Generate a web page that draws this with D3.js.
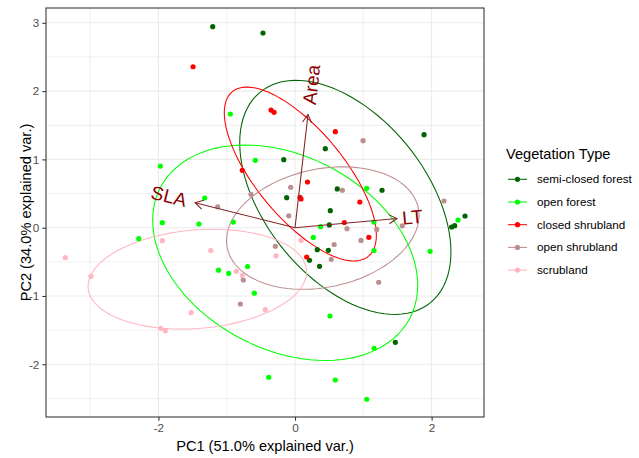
<!DOCTYPE html>
<html>
<head>
<meta charset="utf-8">
<script src="https://cdn.jsdelivr.net/npm/d3@7/dist/d3.min.js"></script>
<style>
  html, body { margin: 0; padding: 0; background: #fff; }
  svg { display: block; font-family: "Liberation Sans", Arial, sans-serif; }
</style>
</head>
<body>
<svg id="chart" width="639" height="458"></svg>
<script>
// PCA scores (PC1, PC2) per vegetation type
const semiClosedForest = [
  [-1.205, 2.943], [-0.469, 2.851], [1.889, 1.362], [0.444, 1.157], [-0.165, 0.996],
  [0.619, 0.567], [1.274, 0.548], [-0.122, 0.439], [0.517, 0.249], [0.502, 0.040],
  [2.294, 0.010], [2.338, 0.029], [2.489, 0.171], [0.326, -0.322], [0.488, -0.331],
  [0.212, -0.477], [0.359, -0.565], [1.469, -1.678]
];
const openForest = [
  [-0.947, 1.665], [-0.581, 0.987], [-1.972, 0.903], [-1.322, 0.435], [1.050, 0.577],
  [-1.943, 0.073], [-1.406, 0.054], [-0.903, 0.083], [0.373, 0.015], [1.154, 0.083],
  [2.387, 0.113], [-2.288, -0.161], [0.268, -0.143], [1.157, -0.334], [1.977, -0.346],
  [-1.120, -0.622], [-0.971, -0.668], [-0.695, -0.568], [-0.596, -0.959], [0.512, -1.293],
  [1.157, -1.766], [-0.384, -2.190], [0.590, -2.230], [1.050, -2.512]
];
const closedShrubland = [
  [-1.493, 2.357], [-0.351, 1.723], [-0.307, 1.690], [0.590, 1.406], [-0.772, 0.840],
  [0.183, 0.669], [0.073, 0.445], [0.088, 0.420], [0.949, 0.376], [0.722, 0.076],
  [1.081, -0.141], [0.171, -0.429]
];
const openShrubland = [
  [0.996, 1.274], [-0.063, 0.592], [0.693, 0.548], [-0.644, 0.489], [2.182, 0.391],
  [-1.132, 0.307], [-0.092, 0.174], [0.761, -0.015], [1.196, -0.026], [1.570, 0.028],
  [-0.288, -0.272], [0.574, -0.246], [0.966, -0.187], [0.531, -0.463], [-0.757, -0.766],
  [1.225, -0.799], [-0.801, -1.117]
];
const scrubland = [
  [-3.363, -0.439], [-2.987, -0.712], [-1.966, -1.473], [-1.899, -1.508], [-1.520, -1.244],
  [-1.943, -0.190], [-1.233, -0.334], [-0.859, -0.638], [-0.772, -0.700], [-0.436, -1.201],
  [0.088, -0.187], [-0.278, -0.414]
];

const groupNames = ["semi-closed forest", "open forest", "closed shrubland", "open shrubland", "scrubland"];
const groupScores = [semiClosedForest, openForest, closedShrubland, openShrubland, scrubland];
const groupColors = ["#006400", "#00ff00", "#ff0000", "#bc8f8f", "#ffb6c1"];

// Variable loadings (arrow tips)
const varNames = ["SLA", "LT", "Area"];
const varPC1 = [-1.464, 1.493, 0.190];
const varPC2 = [0.366, 0.135, 1.657];

// Axes
const xDomain = [-3.646, 2.767];
const yDomain = [-2.772, 3.217];
const xMajor = [-2, 0, 2];
const xMinor = [-3, -1, 1];
const yMajor = [-2, -1, 0, 1, 2, 3];
const yMinor = [-2.5, -1.5, -0.5, 0.5, 1.5, 2.5];
const xTitle = "PC1 (51.0% explained var.)";
const yTitle = "PC2 (34.0% explained var.)";
const legendTitle = "Vegetation Type";

const panel = { left: 46, right: 484, top: 8, bottom: 417 };
const svg = d3.select("#chart");
const x = d3.scaleLinear().domain(xDomain).range([panel.left, panel.right]);
const y = d3.scaleLinear().domain(yDomain).range([panel.bottom, panel.top]);

svg.append("rect").attr("width", 639).attr("height", 458).attr("fill", "#fff");

// grid
const grid = svg.append("g");
grid.selectAll(".vx-minor").data(xMinor).join("line")
  .attr("x1", d => x(d)).attr("x2", d => x(d)).attr("y1", panel.top).attr("y2", panel.bottom)
  .attr("stroke", "#ebebeb").attr("stroke-width", 0.8);
grid.selectAll(".hy-minor").data(yMinor).join("line")
  .attr("y1", d => y(d)).attr("y2", d => y(d)).attr("x1", panel.left).attr("x2", panel.right)
  .attr("stroke", "#ebebeb").attr("stroke-width", 0.8);
grid.selectAll(".vx").data(xMajor).join("line")
  .attr("x1", d => x(d)).attr("x2", d => x(d)).attr("y1", panel.top).attr("y2", panel.bottom)
  .attr("stroke", "#ebebeb").attr("stroke-width", 1.07);
grid.selectAll(".hy").data(yMajor).join("line")
  .attr("y1", d => y(d)).attr("y2", d => y(d)).attr("x1", panel.left).attr("x2", panel.right)
  .attr("stroke", "#ebebeb").attr("stroke-width", 1.07);

// 68% normal ellipses per group
const ed = Math.sqrt(-2 * Math.log(1 - 0.68));
function ellipsePoints(pts) {
  const n = pts.length;
  const mx = d3.mean(pts, p => p[0]), my = d3.mean(pts, p => p[1]);
  let sxx = 0, syy = 0, sxy = 0;
  pts.forEach(p => { sxx += (p[0]-mx)**2; syy += (p[1]-my)**2; sxy += (p[0]-mx)*(p[1]-my); });
  sxx /= (n-1); syy /= (n-1); sxy /= (n-1);
  const r11 = Math.sqrt(sxx), r12 = sxy / r11, r22 = Math.sqrt(syy - r12*r12);
  const out = [];
  for (let i = 0; i <= 100; i++) {
    const t = -Math.PI + 2 * Math.PI * i / 100;
    const c = Math.cos(t), s = Math.sin(t);
    out.push([mx + ed * c * r11, my + ed * (c * r12 + s * r22)]);
  }
  return out;
}
const line = d3.line().x(d => x(d[0])).y(d => y(d[1]));
const ells = svg.append("g").attr("fill", "none");
groupScores.forEach((pts, i) => {
  ells.append("path").attr("d", line(ellipsePoints(pts)))
    .attr("stroke", groupColors[i]).attr("stroke-width", 1.07);
});

// points
const dots = svg.append("g");
groupScores.forEach((pts, i) => {
  dots.selectAll(null).data(pts).join("circle")
    .attr("cx", d => x(d[0])).attr("cy", d => y(d[1])).attr("r", 2.6)
    .attr("fill", groupColors[i]);
});

// loading arrows
const arrowCol = "#832424";
svg.append("defs").append("marker")
  .attr("id", "head").attr("viewBox", "-10 -6 12 12").attr("refX", 0).attr("refY", 0)
  .attr("markerWidth", 12).attr("markerHeight", 12).attr("markerUnits", "userSpaceOnUse")
  .attr("orient", "auto")
  .append("path").attr("d", "M-8,-4.6 L0,0 L-8,4.6").attr("fill", "none")
  .attr("stroke", arrowCol).attr("stroke-width", 1.07);
const arrows = svg.append("g");
varNames.forEach((nm, i) => {
  arrows.append("line")
    .attr("x1", x(0)).attr("y1", y(0)).attr("x2", x(varPC1[i])).attr("y2", y(varPC2[i]))
    .attr("stroke", arrowCol).attr("stroke-width", 1.07).attr("marker-end", "url(#head)");
});
// variable names, rotated along the arrows
varNames.forEach((nm, i) => {
  const vx = varPC1[i], vy = varPC2[i];
  const ang = Math.atan(vy / vx) * 180 / Math.PI;
  const hjust = (1 - 1.5 * Math.sign(vx)) / 2;
  const g = svg.append("g")
    .attr("transform", `translate(${x(vx)},${y(vy)}) rotate(${-ang})`);
  const t = g.append("text").text(nm).attr("font-size", 19).attr("fill", "#8b0000")
    .attr("dy", "0.35em");
  const w = t.node().getComputedTextLength();
  t.attr("x", -hjust * w);
});

// panel border
svg.append("rect").attr("x", panel.left).attr("y", panel.top)
  .attr("width", panel.right - panel.left).attr("height", panel.bottom - panel.top)
  .attr("fill", "none").attr("stroke", "#333").attr("stroke-width", 1.07);

// axes
const xAxis = svg.append("g").attr("transform", `translate(0,${panel.bottom})`)
  .call(d3.axisBottom(x).tickValues(xMajor).tickFormat(d => String(d)).tickSize(3.7).tickPadding(3));
const yAxis = svg.append("g").attr("transform", `translate(${panel.left},0)`)
  .call(d3.axisLeft(y).tickValues(yMajor).tickFormat(d => String(d)).tickSize(3.7).tickPadding(3));
[xAxis, yAxis].forEach(a => {
  a.select(".domain").remove();
  a.selectAll(".tick line").attr("stroke", "#333").attr("stroke-width", 1.07);
  a.selectAll(".tick text").attr("fill", "#4d4d4d").attr("font-size", 11.7)
    .attr("font-family", "\"Liberation Sans\", Arial, sans-serif");
});

svg.append("text").attr("x", (panel.left + panel.right) / 2).attr("y", 451)
  .attr("text-anchor", "middle").attr("font-size", 14.6).attr("fill", "#000").text(xTitle);
svg.append("text").attr("transform", `translate(30.5,${(panel.top + panel.bottom) / 2}) rotate(-90)`)
  .attr("text-anchor", "middle").attr("font-size", 14.6).attr("fill", "#000").text(yTitle);

// legend
const legend = svg.append("g");
legend.append("text").attr("x", 506).attr("y", 159).attr("font-size", 14.6).text(legendTitle);
groupNames.forEach((nm, i) => {
  const cy = 179.3 + i * 22.7;
  legend.append("line").attr("x1", 508).attr("x2", 527).attr("y1", cy).attr("y2", cy)
    .attr("stroke", groupColors[i]).attr("stroke-width", 1.07);
  legend.append("circle").attr("cx", 517.5).attr("cy", cy).attr("r", 2.6).attr("fill", groupColors[i]);
  legend.append("text").attr("x", 537).attr("y", cy).attr("dy", "0.35em")
    .attr("font-size", 11.7).text(nm);
});
</script>
</body>
</html>
